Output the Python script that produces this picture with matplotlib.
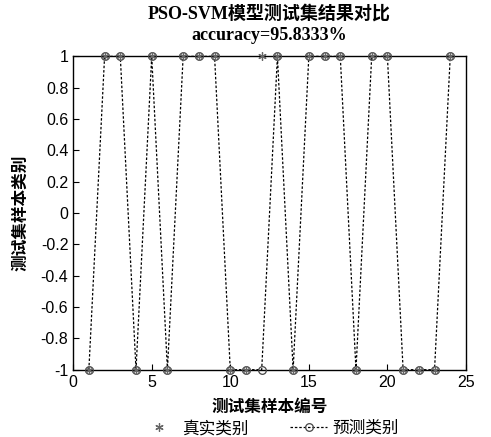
import matplotlib.pyplot as plt
import numpy as np

sample_idx = list(range(1, 25))
true_class = [-1, 1, 1, -1, 1, -1, 1, 1, 1, -1, -1, 1, 1, -1, 1, 1, 1, -1, 1, 1, -1, -1, -1, 1]
pred_class = [-1, 1, 1, -1, 1, -1, 1, 1, 1, -1, -1, -1, 1, -1, 1, 1, 1, -1, 1, 1, -1, -1, -1, 1]

accuracy = np.mean(np.array(true_class) == np.array(pred_class)) * 100

serif_cjk = ['Liberation Serif', 'Noto Sans CJK SC']
sans_cjk = ['Liberation Sans', 'Noto Sans CJK SC']


def main():
    plt.rcParams['font.family'] = sans_cjk
    plt.rcParams['axes.unicode_minus'] = False

    fig = plt.figure(figsize=(4.91, 4.37), dpi=100)
    ax = fig.add_axes([0.149, 0.154, 0.800, 0.717])

    ax.plot(sample_idx, pred_class, linestyle=(0, (2, 1.5)), color='black',
            linewidth=0.9, marker='o', markersize=5.5, markerfacecolor='none',
            markeredgecolor='#444444', markeredgewidth=0.9, label='预测类别',
            clip_on=False, zorder=3)
    ax.plot(sample_idx, true_class, linestyle='none', marker=(6, 2, 0),
            markersize=6, color='#666666', markeredgewidth=0.9, label='真实类别',
            clip_on=False, zorder=4)

    ax.set_xlim(0, 25)
    ax.set_ylim(-1, 1)
    ax.set_xticks(range(0, 26, 5))
    ax.set_yticks(np.round(np.arange(-1, 1.01, 0.2), 1))
    ax.set_yticklabels(['-1', '-0.8', '-0.6', '-0.4', '-0.2', '0',
                        '0.2', '0.4', '0.6', '0.8', '1'])
    ax.tick_params(direction='in', labelsize=11.5, length=4, width=0.8,
                   top=False, right=False)
    for s in ax.spines.values():
        s.set_linewidth(1.0)
        s.set_zorder(2)

    ax.set_xlabel('测试集样本编号', fontsize=12, fontweight='bold', labelpad=7)
    ax.set_ylabel('测试集样本类别', fontsize=12, fontweight='bold', labelpad=9)
    ax.set_title('PSO-SVM模型测试集结果对比\naccuracy=%.4f%%' % accuracy,
                 family=serif_cjk, fontsize=13, fontweight='bold',
                 linespacing=1.3, pad=12)

    handles, labels = ax.get_legend_handles_labels()
    ax.legend(handles[::-1], labels[::-1], loc='upper center',
              bbox_to_anchor=(0.5, -0.14), ncol=2,
              frameon=False, fontsize=12, handlelength=2.2,
              columnspacing=2.5, handletextpad=0.3, borderaxespad=0)

    fig.savefig('out.png', dpi=100)


if __name__ == "__main__":
    main()
